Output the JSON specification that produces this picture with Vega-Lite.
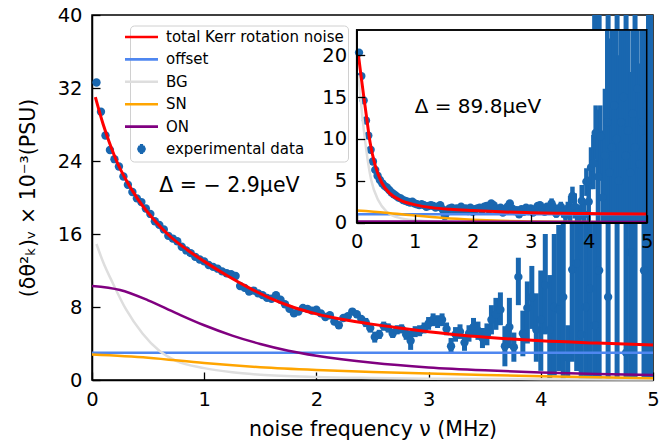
{
"$schema":"https://vega.github.io/schema/vega-lite/v6.json",
"width":561,"height":365,
"autosize":{"type":"none"},
"padding":{"left":92,"top":15,"right":14,"bottom":66},
"config":{
 "view":{"stroke":"black","strokeWidth":1.5},
 "font":"DejaVu Sans",
 "axis":{"grid":false,"domainColor":"black","domainWidth":1.5,"tickColor":"black","tickWidth":1.3,"tickSize":-8,"labelPadding":18,"labelFontSize":19.5,"labelColor":"black","labelFont":"DejaVu Sans","titleFont":"DejaVu Sans","titleFontSize":20.5,"titleFontWeight":"normal","titleColor":"black","zindex":1,"labelFlush":false,"labelOverlap":false,"format":"d"}
},
"datasets":{
"mp":[
{"f":0.04,"y":32.6,"lo":32.3,"hi":32.9},{"f":0.08,"y":29.4,"lo":29.1,"hi":29.7},{"f":0.12,"y":26.8,"lo":26.5,"hi":27.1},{"f":0.16,"y":25.2,"lo":24.9,"hi":25.5},{"f":0.20,"y":24.2,"lo":23.9,"hi":24.5},{"f":0.24,"y":23.4,"lo":23.1,"hi":23.7},{"f":0.28,"y":22.3,"lo":22.0,"hi":22.6},{"f":0.32,"y":21.4,"lo":21.1,"hi":21.7},{"f":0.36,"y":20.6,"lo":20.3,"hi":20.9},{"f":0.40,"y":19.9,"lo":19.6,"hi":20.2},
{"f":0.44,"y":19.5,"lo":19.2,"hi":19.8},{"f":0.48,"y":18.8,"lo":18.5,"hi":19.1},{"f":0.52,"y":18.2,"lo":17.9,"hi":18.5},{"f":0.56,"y":17.4,"lo":17.1,"hi":17.7},{"f":0.60,"y":17.0,"lo":16.7,"hi":17.3},{"f":0.64,"y":16.5,"lo":16.2,"hi":16.8},{"f":0.68,"y":15.8,"lo":15.5,"hi":16.1},{"f":0.72,"y":15.5,"lo":15.2,"hi":15.8},{"f":0.76,"y":15.2,"lo":14.9,"hi":15.5},{"f":0.80,"y":14.6,"lo":14.3,"hi":14.9},
{"f":0.84,"y":14.2,"lo":13.9,"hi":14.5},{"f":0.88,"y":13.9,"lo":13.6,"hi":14.2},{"f":0.92,"y":13.5,"lo":13.2,"hi":13.8},{"f":0.96,"y":13.2,"lo":12.9,"hi":13.5},{"f":1.00,"y":13.0,"lo":12.7,"hi":13.3},{"f":1.04,"y":12.6,"lo":12.3,"hi":12.9},{"f":1.08,"y":12.4,"lo":12.1,"hi":12.7},{"f":1.12,"y":12.2,"lo":11.9,"hi":12.5},{"f":1.16,"y":11.9,"lo":11.6,"hi":12.2},{"f":1.20,"y":11.7,"lo":11.4,"hi":12.0},
{"f":1.24,"y":11.6,"lo":11.3,"hi":11.9},{"f":1.28,"y":11.4,"lo":11.1,"hi":11.7},{"f":1.32,"y":10.3,"lo":10.0,"hi":10.6},{"f":1.36,"y":10.1,"lo":9.8,"hi":10.4},{"f":1.40,"y":9.7,"lo":9.4,"hi":10.0},{"f":1.44,"y":9.8,"lo":9.5,"hi":10.1},{"f":1.48,"y":9.5,"lo":9.2,"hi":9.8},{"f":1.52,"y":9.3,"lo":9.0,"hi":9.6},{"f":1.56,"y":9.0,"lo":8.7,"hi":9.3},{"f":1.60,"y":8.9,"lo":8.6,"hi":9.2},
{"f":1.64,"y":9.3,"lo":9.0,"hi":9.6},{"f":1.68,"y":8.8,"lo":8.5,"hi":9.1},{"f":1.72,"y":8.3,"lo":8.0,"hi":8.6},{"f":1.76,"y":7.8,"lo":7.5,"hi":8.1},{"f":1.80,"y":7.3,"lo":7.0,"hi":7.6},{"f":1.84,"y":7.5,"lo":7.2,"hi":7.8},{"f":1.88,"y":7.9,"lo":7.6,"hi":8.2},{"f":1.92,"y":7.8,"lo":7.5,"hi":8.1},{"f":1.96,"y":7.6,"lo":7.3,"hi":7.9},{"f":2.00,"y":7.7,"lo":7.4,"hi":8.0},
{"f":2.04,"y":7.3,"lo":7.0,"hi":7.6},{"f":2.08,"y":6.9,"lo":6.6,"hi":7.2},{"f":2.12,"y":7.1,"lo":6.8,"hi":7.4},{"f":2.16,"y":6.4,"lo":6.1,"hi":6.7},{"f":2.20,"y":6.0,"lo":5.6,"hi":6.4},{"f":2.24,"y":6.8,"lo":6.5,"hi":7.1},{"f":2.28,"y":7.0,"lo":6.7,"hi":7.3},{"f":2.32,"y":7.5,"lo":7.2,"hi":7.8},{"f":2.36,"y":7.2,"lo":6.9,"hi":7.5},{"f":2.40,"y":6.7,"lo":6.4,"hi":7.0},
{"f":2.44,"y":6.3,"lo":5.8,"hi":6.8},{"f":2.48,"y":5.7,"lo":5.2,"hi":6.2},{"f":2.52,"y":4.7,"lo":4.1,"hi":5.3},{"f":2.56,"y":5.0,"lo":4.5,"hi":5.5},{"f":2.60,"y":5.9,"lo":5.4,"hi":6.4},{"f":2.64,"y":5.7,"lo":5.2,"hi":6.2},{"f":2.68,"y":5.1,"lo":4.6,"hi":5.6},{"f":2.72,"y":5.5,"lo":5.0,"hi":6.0},{"f":2.76,"y":5.6,"lo":5.1,"hi":6.1},{"f":2.80,"y":5.0,"lo":4.4,"hi":5.6},
{"f":2.84,"y":4.3,"lo":3.3,"hi":5.4},{"f":2.88,"y":5.3,"lo":4.7,"hi":5.9},{"f":2.92,"y":5.4,"lo":4.8,"hi":6.0},{"f":2.96,"y":5.7,"lo":5.1,"hi":6.3},{"f":3.00,"y":6.2,"lo":5.5,"hi":6.9},{"f":3.04,"y":6.6,"lo":5.9,"hi":7.3},{"f":3.08,"y":6.4,"lo":5.7,"hi":7.1},{"f":3.12,"y":6.6,"lo":5.9,"hi":7.3},{"f":3.16,"y":5.6,"lo":4.9,"hi":6.3},{"f":3.20,"y":3.7,"lo":2.9,"hi":4.6},
{"f":3.24,"y":5.0,"lo":4.2,"hi":5.8},{"f":3.28,"y":5.3,"lo":4.5,"hi":6.1},{"f":3.32,"y":4.1,"lo":3.2,"hi":5.0},{"f":3.36,"y":5.1,"lo":4.2,"hi":6.0},{"f":3.40,"y":5.8,"lo":4.9,"hi":6.8},{"f":3.44,"y":5.4,"lo":4.4,"hi":6.4},{"f":3.48,"y":4.6,"lo":3.5,"hi":5.7},{"f":3.52,"y":5.0,"lo":3.8,"hi":6.2},{"f":3.56,"y":6.6,"lo":5.0,"hi":8.2},{"f":3.60,"y":7.2,"lo":5.5,"hi":9.0},
{"f":3.64,"y":7.7,"lo":6.0,"hi":9.6},{"f":3.68,"y":3.7,"lo":1.5,"hi":5.9},{"f":3.72,"y":5.8,"lo":3.5,"hi":9.0},{"f":3.76,"y":3.6,"lo":2.0,"hi":5.2},{"f":3.80,"y":11.3,"lo":8.2,"hi":13.4},{"f":3.84,"y":5.1,"lo":2.6,"hi":7.6},{"f":3.88,"y":7.9,"lo":4.0,"hi":10.8},{"f":3.92,"y":9.1,"lo":5.6,"hi":12.5},{"f":3.96,"y":5.5,"lo":2.0,"hi":9.5},{"f":4.00,"y":6.6,"lo":1.0,"hi":12.0},
{"f":4.04,"y":10.4,"lo":5.0,"hi":16.0},{"f":4.08,"y":5.5,"lo":-1,"hi":11.5},{"f":4.12,"y":8.0,"lo":0.5,"hi":16},{"f":4.16,"y":7.7,"lo":1.0,"hi":17},{"f":4.20,"y":9.1,"lo":-1,"hi":18},{"f":4.24,"y":2.5,"lo":0.3,"hi":6},{"f":4.28,"y":12.1,"lo":2,"hi":30},{"f":4.32,"y":12.8,"lo":1,"hi":38},{"f":4.36,"y":5.0,"lo":-5,"hi":20},{"f":4.40,"y":8.0,"lo":-5,"hi":30},
{"f":4.44,"y":10.0,"lo":-10,"hi":35},{"f":4.48,"y":6.0,"lo":-20,"hi":55},{"f":4.52,"y":12.0,"lo":-10,"hi":45},{"f":4.56,"y":55,"lo":45,"hi":65},{"f":4.60,"y":9.1,"lo":-20,"hi":60},{"f":4.64,"y":-15,"lo":-25,"hi":-5},{"f":4.68,"y":20.0,"lo":-20,"hi":70},{"f":4.72,"y":50,"lo":42,"hi":58},{"f":4.76,"y":3.0,"lo":-10,"hi":42},{"f":4.80,"y":14.0,"lo":-5,"hi":35},
{"f":4.84,"y":18.0,"lo":-20,"hi":60},{"f":4.88,"y":-12,"lo":-20,"hi":-4},{"f":4.92,"y":12.0,"lo":-8,"hi":30},{"f":4.96,"y":9.1,"lo":-20,"hi":60},{"f":5.00,"y":9.1,"lo":-20,"hi":55}
],
"ip":[
{"f":0.04,"y":20.3,"lo":20.1,"hi":20.5},{"f":0.08,"y":17.5,"lo":17.3,"hi":17.7},{"f":0.12,"y":14.6,"lo":14.4,"hi":14.8},{"f":0.16,"y":12.2,"lo":12.0,"hi":12.4},{"f":0.20,"y":10.4,"lo":10.2,"hi":10.6},{"f":0.24,"y":8.7,"lo":8.5,"hi":8.9},{"f":0.28,"y":7.3,"lo":7.1,"hi":7.5},{"f":0.32,"y":6.3,"lo":6.1,"hi":6.5},{"f":0.36,"y":5.6,"lo":5.4,"hi":5.8},{"f":0.40,"y":5.1,"lo":4.9,"hi":5.3},
{"f":0.44,"y":4.7,"lo":4.5,"hi":4.9},{"f":0.48,"y":4.4,"lo":4.2,"hi":4.6},{"f":0.52,"y":4.2,"lo":4.0,"hi":4.4},{"f":0.56,"y":3.9,"lo":3.7,"hi":4.1},{"f":0.60,"y":3.6,"lo":3.4,"hi":3.8},{"f":0.64,"y":3.4,"lo":3.2,"hi":3.6},{"f":0.68,"y":3.2,"lo":3.0,"hi":3.4},{"f":0.72,"y":3.0,"lo":2.8,"hi":3.2},{"f":0.76,"y":2.9,"lo":2.7,"hi":3.1},{"f":0.80,"y":2.7,"lo":2.5,"hi":2.9},
{"f":0.84,"y":2.6,"lo":2.4,"hi":2.8},{"f":0.88,"y":2.5,"lo":2.3,"hi":2.7},{"f":0.92,"y":2.4,"lo":2.2,"hi":2.6},{"f":0.96,"y":2.5,"lo":2.3,"hi":2.7},{"f":1.00,"y":2.3,"lo":2.1,"hi":2.5},{"f":1.04,"y":2.2,"lo":2.0,"hi":2.4},{"f":1.08,"y":2.1,"lo":1.9,"hi":2.3},{"f":1.12,"y":2.2,"lo":2.0,"hi":2.4},{"f":1.16,"y":2.1,"lo":1.9,"hi":2.3},{"f":1.20,"y":1.9,"lo":1.7,"hi":2.1},
{"f":1.24,"y":2.0,"lo":1.8,"hi":2.2},{"f":1.28,"y":2.1,"lo":1.9,"hi":2.3},{"f":1.32,"y":2.0,"lo":1.8,"hi":2.2},{"f":1.36,"y":1.8,"lo":1.6,"hi":2.0},{"f":1.40,"y":1.9,"lo":1.7,"hi":2.1},{"f":1.44,"y":2.1,"lo":1.9,"hi":2.3},{"f":1.48,"y":1.6,"lo":1.4,"hi":1.8},{"f":1.52,"y":0.8,"lo":0.3,"hi":1.3},{"f":1.56,"y":1.3,"lo":1.1,"hi":1.5},{"f":1.60,"y":1.7,"lo":1.5,"hi":1.9},
{"f":1.64,"y":1.8,"lo":1.6,"hi":2.0},{"f":1.68,"y":1.5,"lo":1.3,"hi":1.7},{"f":1.72,"y":1.7,"lo":1.5,"hi":1.9},{"f":1.76,"y":1.6,"lo":1.4,"hi":1.8},{"f":1.80,"y":1.9,"lo":1.7,"hi":2.1},{"f":1.84,"y":1.5,"lo":1.3,"hi":1.7},{"f":1.88,"y":1.7,"lo":1.5,"hi":1.9},{"f":1.92,"y":1.4,"lo":1.2,"hi":1.6},{"f":1.96,"y":1.8,"lo":1.6,"hi":2.0},{"f":2.00,"y":1.3,"lo":1.1,"hi":1.5},
{"f":2.04,"y":1.6,"lo":1.4,"hi":1.8},{"f":2.08,"y":1.7,"lo":1.5,"hi":1.9},{"f":2.12,"y":1.8,"lo":1.6,"hi":2.0},{"f":2.16,"y":1.5,"lo":1.3,"hi":1.7},{"f":2.20,"y":1.9,"lo":1.7,"hi":2.1},{"f":2.24,"y":2.0,"lo":1.8,"hi":2.2},{"f":2.28,"y":1.6,"lo":1.4,"hi":1.8},{"f":2.32,"y":2.3,"lo":2.1,"hi":2.5},{"f":2.36,"y":2.1,"lo":1.9,"hi":2.3},{"f":2.40,"y":1.7,"lo":1.5,"hi":1.9},
{"f":2.44,"y":1.5,"lo":1.3,"hi":1.7},{"f":2.48,"y":1.8,"lo":1.6,"hi":2.0},{"f":2.52,"y":1.2,"lo":1.0,"hi":1.4},{"f":2.56,"y":1.6,"lo":1.4,"hi":1.8},{"f":2.60,"y":1.9,"lo":1.7,"hi":2.1},{"f":2.64,"y":2.3,"lo":2.1,"hi":2.5},{"f":2.68,"y":1.7,"lo":1.5,"hi":1.9},{"f":2.72,"y":1.4,"lo":1.2,"hi":1.6},{"f":2.76,"y":1.5,"lo":1.3,"hi":1.7},{"f":2.80,"y":1.0,"lo":0.8,"hi":1.2},
{"f":2.84,"y":1.6,"lo":1.4,"hi":1.8},{"f":2.88,"y":1.3,"lo":1.1,"hi":1.5},{"f":2.92,"y":1.8,"lo":1.6,"hi":2.0},{"f":2.96,"y":1.4,"lo":1.2,"hi":1.6},{"f":3.00,"y":1.7,"lo":1.5,"hi":1.9},{"f":3.04,"y":1.2,"lo":1.0,"hi":1.4},{"f":3.08,"y":1.6,"lo":1.4,"hi":1.8},{"f":3.12,"y":2.0,"lo":1.8,"hi":2.2},{"f":3.16,"y":2.1,"lo":1.9,"hi":2.3},{"f":3.20,"y":1.5,"lo":1.3,"hi":1.7},
{"f":3.24,"y":1.3,"lo":1.1,"hi":1.5},{"f":3.28,"y":1.9,"lo":1.7,"hi":2.1},{"f":3.32,"y":1.6,"lo":1.2,"hi":2.0},{"f":3.36,"y":2.3,"lo":1.7,"hi":2.9},{"f":3.40,"y":1.8,"lo":1.3,"hi":2.3},{"f":3.44,"y":1.1,"lo":0.6,"hi":1.6},{"f":3.48,"y":1.5,"lo":0.9,"hi":2.1},{"f":3.52,"y":1.9,"lo":1.3,"hi":2.5},{"f":3.56,"y":1.3,"lo":0.6,"hi":2.0},{"f":3.60,"y":0.9,"lo":0,"hi":1.9},
{"f":3.64,"y":1.7,"lo":0.9,"hi":2.5},{"f":3.68,"y":1.5,"lo":0,"hi":3.2},{"f":3.72,"y":3.2,"lo":2.3,"hi":4.3},{"f":3.76,"y":1.9,"lo":0.5,"hi":3.5},{"f":3.80,"y":1.2,"lo":0.2,"hi":2.2},{"f":3.84,"y":0.8,"lo":-0.5,"hi":2.1},{"f":3.88,"y":2.6,"lo":1.0,"hi":4.5},{"f":3.92,"y":1.0,"lo":-0.5,"hi":2.6},{"f":3.96,"y":4.9,"lo":3.2,"hi":6.5},{"f":4.00,"y":2.5,"lo":0,"hi":5.5},
{"f":4.04,"y":6.6,"lo":4,"hi":9},{"f":4.08,"y":7.1,"lo":4,"hi":10.5},{"f":4.12,"y":10.7,"lo":7.5,"hi":14},{"f":4.16,"y":5.5,"lo":0,"hi":13.5},{"f":4.20,"y":10.3,"lo":5,"hi":14},{"f":4.24,"y":3.0,"lo":-1,"hi":11},{"f":4.28,"y":8,"lo":-2,"hi":16},{"f":4.32,"y":12,"lo":-3,"hi":25},{"f":4.36,"y":6,"lo":-5,"hi":22},{"f":4.40,"y":9,"lo":-10,"hi":30},
{"f":4.44,"y":14,"lo":-10,"hi":40},{"f":4.48,"y":10,"lo":-20,"hi":40},{"f":4.52,"y":5,"lo":-10,"hi":20},{"f":4.56,"y":12,"lo":-15,"hi":40},{"f":4.60,"y":15,"lo":-20,"hi":50},{"f":4.64,"y":8,"lo":-15,"hi":40},{"f":4.68,"y":11,"lo":-20,"hi":45},{"f":4.72,"y":6,"lo":-5,"hi":18},{"f":4.76,"y":13,"lo":-20,"hi":50},{"f":4.80,"y":9,"lo":-15,"hi":40},
{"f":4.84,"y":16,"lo":-20,"hi":55},{"f":4.88,"y":7,"lo":-4,"hi":19},{"f":4.92,"y":12,"lo":-20,"hi":45},{"f":4.96,"y":10,"lo":-20,"hi":50},{"f":5.00,"y":14,"lo":-20,"hi":50}
],
"mc":[
{"s":"offset","f":0,"v":3.0},{"s":"offset","f":5,"v":3.0},
{"s":"BG","f":0.04,"v":14.9},{"s":"BG","f":0.1,"v":12.9},{"s":"BG","f":0.186,"v":10.6},{"s":"BG","f":0.305,"v":7.7},{"s":"BG","f":0.45,"v":5.1},{"s":"BG","f":0.6,"v":3.2},{"s":"BG","f":0.75,"v":2.1},{"s":"BG","f":1.0,"v":1.3},{"s":"BG","f":1.25,"v":0.85},{"s":"BG","f":1.5,"v":0.58},{"s":"BG","f":2.0,"v":0.33},{"s":"BG","f":2.5,"v":0.22},{"s":"BG","f":3.0,"v":0.15},{"s":"BG","f":4.0,"v":0.09},{"s":"BG","f":5.0,"v":0.06},
{"s":"SN","f":0,"v":2.8},{"s":"SN","f":0.5,"v":2.45},{"s":"SN","f":1.0,"v":1.85},{"s":"SN","f":1.5,"v":1.4},{"s":"SN","f":2.0,"v":1.1},{"s":"SN","f":2.5,"v":0.88},{"s":"SN","f":3.0,"v":0.7},{"s":"SN","f":3.5,"v":0.55},{"s":"SN","f":4.0,"v":0.42},{"s":"SN","f":4.5,"v":0.3},{"s":"SN","f":5.0,"v":0.2},
{"s":"ON","f":0,"v":10.3},{"s":"ON","f":0.25,"v":9.86},{"s":"ON","f":0.5,"v":8.73},{"s":"ON","f":0.75,"v":7.33},{"s":"ON","f":1.0,"v":6.0},{"s":"ON","f":1.25,"v":4.87},{"s":"ON","f":1.5,"v":3.95},{"s":"ON","f":1.75,"v":3.21},{"s":"ON","f":2.0,"v":2.66},{"s":"ON","f":2.5,"v":1.88},{"s":"ON","f":3.0,"v":1.38},{"s":"ON","f":3.5,"v":1.06},{"s":"ON","f":4.0,"v":0.83},{"s":"ON","f":4.5,"v":0.67},{"s":"ON","f":5.0,"v":0.55}
],
"mr":[
{"s":"total Kerr rotation noise","f":0.03,"v":31.0},{"s":"total Kerr rotation noise","f":0.1,"v":28.0},{"s":"total Kerr rotation noise","f":0.15,"v":26.2},{"s":"total Kerr rotation noise","f":0.23,"v":23.7},{"s":"total Kerr rotation noise","f":0.3,"v":22.0},{"s":"total Kerr rotation noise","f":0.41,"v":19.8},{"s":"total Kerr rotation noise","f":0.55,"v":17.6},{"s":"total Kerr rotation noise","f":0.7,"v":15.7},{"s":"total Kerr rotation noise","f":0.85,"v":14.25},{"s":"total Kerr rotation noise","f":1.0,"v":13.0},{"s":"total Kerr rotation noise","f":1.21,"v":11.4},{"s":"total Kerr rotation noise","f":1.4,"v":10.1},{"s":"total Kerr rotation noise","f":1.58,"v":9.0},{"s":"total Kerr rotation noise","f":1.8,"v":7.95},{"s":"total Kerr rotation noise","f":2.0,"v":7.25},{"s":"total Kerr rotation noise","f":2.25,"v":6.6},{"s":"total Kerr rotation noise","f":2.475,"v":6.15},{"s":"total Kerr rotation noise","f":2.74,"v":5.7},{"s":"total Kerr rotation noise","f":3.0,"v":5.3},{"s":"total Kerr rotation noise","f":3.3,"v":4.9},{"s":"total Kerr rotation noise","f":3.6,"v":4.6},{"s":"total Kerr rotation noise","f":4.0,"v":4.3},{"s":"total Kerr rotation noise","f":4.5,"v":4.05},{"s":"total Kerr rotation noise","f":5.0,"v":3.84}
],
"ic":[
{"s":"offset","f":0,"v":1.0},{"s":"offset","f":5,"v":1.0},
{"s":"BG","f":0.03,"v":17.6},{"s":"BG","f":0.1,"v":12.5},{"s":"BG","f":0.15,"v":9.5},{"s":"BG","f":0.2,"v":7.0},{"s":"BG","f":0.25,"v":5.1},{"s":"BG","f":0.37,"v":2.7},{"s":"BG","f":0.52,"v":1.3},{"s":"BG","f":0.75,"v":0.55},{"s":"BG","f":1.0,"v":0.3},{"s":"BG","f":1.5,"v":0.14},{"s":"BG","f":2.0,"v":0.08},{"s":"BG","f":3.0,"v":0.04},{"s":"BG","f":5.0,"v":0.02},
{"s":"SN","f":0,"v":1.45},{"s":"SN","f":0.5,"v":1.2},{"s":"SN","f":1.0,"v":0.85},{"s":"SN","f":1.5,"v":0.55},{"s":"SN","f":2.0,"v":0.35},{"s":"SN","f":2.5,"v":0.22},{"s":"SN","f":3.0,"v":0.15},{"s":"SN","f":4.0,"v":0.08},{"s":"SN","f":5.0,"v":0.05},
{"s":"ON","f":0,"v":0.15},{"s":"ON","f":2.0,"v":0.12},{"s":"ON","f":5.0,"v":0.08}
],
"ir":[
{"s":"total Kerr rotation noise","f":0.03,"v":20.0},{"s":"total Kerr rotation noise","f":0.07,"v":17.8},{"s":"total Kerr rotation noise","f":0.115,"v":15.4},{"s":"total Kerr rotation noise","f":0.17,"v":12.6},{"s":"total Kerr rotation noise","f":0.23,"v":9.6},{"s":"total Kerr rotation noise","f":0.32,"v":6.8},{"s":"total Kerr rotation noise","f":0.43,"v":4.8},{"s":"total Kerr rotation noise","f":0.57,"v":3.5},{"s":"total Kerr rotation noise","f":0.75,"v":2.7},{"s":"total Kerr rotation noise","f":1.03,"v":2.1},{"s":"total Kerr rotation noise","f":1.3,"v":1.8},{"s":"total Kerr rotation noise","f":1.61,"v":1.6},{"s":"total Kerr rotation noise","f":2.0,"v":1.45},{"s":"total Kerr rotation noise","f":2.47,"v":1.3},{"s":"total Kerr rotation noise","f":3.0,"v":1.2},{"s":"total Kerr rotation noise","f":3.5,"v":1.13},{"s":"total Kerr rotation noise","f":4.0,"v":1.09},{"s":"total Kerr rotation noise","f":5.0,"v":1.04}
]
},
"layer":[
{"layer":[
 {"data":{"name":"mp"},"mark":{"type":"rule","strokeWidth":5,"color":"#1967b0","clip":true},
  "encoding":{
   "x":{"field":"f","type":"quantitative","scale":{"domain":[0,5],"nice":false,"zero":false},"axis":{"orient":"bottom","values":[0,1,2,3,4,5],"title":"noise frequency ν (MHz)","titlePadding":11}},
   "y":{"field":"lo","type":"quantitative","scale":{"domain":[0,40],"nice":false},"axis":{"orient":"left","values":[0,8,16,24,32,40],"title":"(δθ²ₖ)ᵥ × 10⁻³(PSU)","titlePadding":19}},
   "y2":{"field":"hi"}}},
 {"data":{"name":"mp"},"mark":{"type":"point","filled":true,"size":70,"opacity":1,"color":"#1967b0","clip":true},
  "encoding":{"x":{"field":"f","type":"quantitative"},"y":{"field":"y","type":"quantitative"}}},
 {"data":{"name":"mc"},"mark":{"type":"line","strokeWidth":2.5,"interpolate":"monotone"},
  "encoding":{"x":{"field":"f","type":"quantitative"},"y":{"field":"v","type":"quantitative"},
   "color":{"field":"s","type":"nominal",
    "scale":{"domain":["total Kerr rotation noise","offset","BG","SN","ON","experimental data"],"range":["#ff0000","#4f87f0","#dedede","#ffa500","#800080","#1967b0"]},
    "legend":{"title":null,"orient":"none","legendX":38,"legendY":10.5,"padding":4,"fillColor":"rgba(255,255,255,0.8)","strokeColor":"#d0d0d0","cornerRadius":4,
      "labelFont":"DejaVu Sans","labelFontSize":15,"labelColor":"black","labelOffset":17,"labelLimit":400,"rowPadding":6.4,"symbolType":"stroke","symbolSize":1089,"symbolStrokeWidth":2.6,
      "encode":{"symbols":{"update":{
        "shape":{"signal":"datum.value === 'experimental data' ? 'M0,-0.3L0,0.3M0.17,0L0.12,0.12L0,0.17L-0.12,0.12L-0.17,0L-0.12,-0.12L0,-0.17L0.12,-0.12Z' : 'M-1,0L1,0'"},
        "strokeWidth":{"signal":"datum.value === 'experimental data' ? 3.2 : 2.6"},
        "strokeCap":{"value":"butt"},
        "strokeJoin":{"value":"round"},
        "fill":{"scale":"color","field":"value"},
        "stroke":{"scale":"color","field":"value"},
        "opacity":{"value":1}}}}}}}},
 {"data":{"name":"mr"},"mark":{"type":"line","strokeWidth":3,"interpolate":"monotone"},
  "encoding":{"x":{"field":"f","type":"quantitative"},"y":{"field":"v","type":"quantitative"},
   "color":{"field":"s","type":"nominal","scale":{"domain":["total Kerr rotation noise","offset","BG","SN","ON","experimental data"],"range":["#ff0000","#4f87f0","#dedede","#ffa500","#800080","#1967b0"]},"legend":null}}},
 {"data":{"values":[{}]},"mark":{"type":"text","align":"left","baseline":"middle","fontSize":20.5,"font":"DejaVu Sans","color":"black"},
  "encoding":{"x":{"datum":0.6,"type":"quantitative"},"y":{"datum":21.3,"type":"quantitative"},"text":{"value":"Δ = − 2.9μeV"}}}
]},
{"layer":[
 {"data":{"values":[{}]},"mark":{"type":"rect","fill":"white","stroke":"black","strokeWidth":1.5},
  "encoding":{
   "x":{"datum":0,"type":"quantitative","scale":{"domain":[0,5],"range":[264.7,554.7],"nice":false,"zero":false},"axis":{"orient":"bottom","offset":-157.3,"values":[0,1,2,3,4,5],"title":null,"zindex":3}},
   "x2":{"datum":5},
   "y":{"datum":0,"type":"quantitative","scale":{"domain":[0,23],"range":[207.7,15],"nice":false,"zero":false,"clamp":true},"axis":{"orient":"left","offset":-264.7,"values":[0,5,10,15,20],"title":null,"zindex":3}},
   "y2":{"datum":23}}},
 {"data":{"name":"ip"},"mark":{"type":"rule","strokeWidth":4.5,"color":"#1967b0"},
  "encoding":{"x":{"field":"f","type":"quantitative"},"y":{"field":"lo","type":"quantitative"},"y2":{"field":"hi"}}},
 {"data":{"name":"ip"},"mark":{"type":"point","filled":true,"size":70,"opacity":1,"color":"#1967b0"},
  "encoding":{"x":{"field":"f","type":"quantitative"},"y":{"field":"y","type":"quantitative"}}},
 {"data":{"name":"ic"},"mark":{"type":"line","strokeWidth":2.5,"interpolate":"monotone"},
  "encoding":{"x":{"field":"f","type":"quantitative"},"y":{"field":"v","type":"quantitative"},
   "color":{"field":"s","type":"nominal","scale":{"domain":["total Kerr rotation noise","offset","BG","SN","ON","experimental data"],"range":["#ff0000","#4f87f0","#dedede","#ffa500","#800080","#1967b0"]},"legend":null}}},
 {"data":{"name":"ir"},"mark":{"type":"line","strokeWidth":3,"interpolate":"monotone"},
  "encoding":{"x":{"field":"f","type":"quantitative"},"y":{"field":"v","type":"quantitative"},
   "color":{"field":"s","type":"nominal","scale":{"domain":["total Kerr rotation noise","offset","BG","SN","ON","experimental data"],"range":["#ff0000","#4f87f0","#dedede","#ffa500","#800080","#1967b0"]},"legend":null}}},
 {"data":{"values":[{}]},"mark":{"type":"text","align":"left","baseline":"middle","fontSize":20,"font":"DejaVu Sans","color":"black"},
  "encoding":{"x":{"datum":1.0,"type":"quantitative"},"y":{"datum":13.8,"type":"quantitative"},"text":{"value":"Δ = 89.8μeV"}}},
 {"data":{"values":[{}]},"mark":{"type":"rect","filled":false,"stroke":"black","strokeWidth":1.5},
  "encoding":{"x":{"datum":0,"type":"quantitative"},"x2":{"datum":5},"y":{"datum":0,"type":"quantitative"},"y2":{"datum":23}}}
]}
],
"resolve":{"scale":{"x":"independent","y":"independent"},"axis":{"x":"independent","y":"independent"}}
}
